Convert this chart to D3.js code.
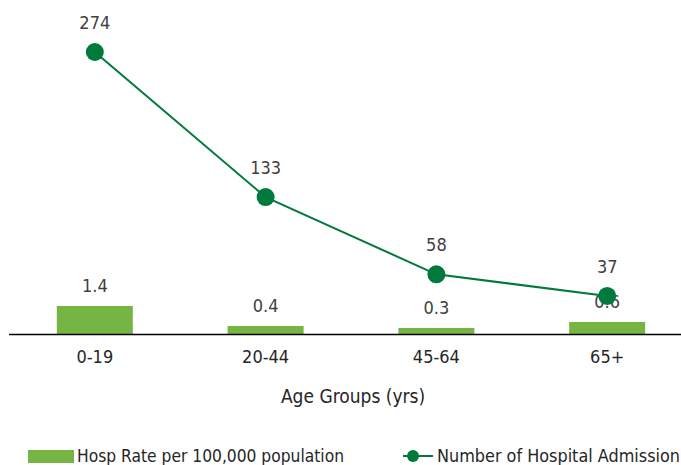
<!DOCTYPE html>
<html>
<head>
<meta charset="utf-8">
<script src="https://cdn.jsdelivr.net/npm/d3@7"></script>
<style>
  body { margin: 0; background: #fff; }
  text { font-family: "DejaVu Sans Condensed", "DejaVu Sans", sans-serif; fill: #404040; }
</style>
</head>
<body>
<div id="chart"></div>
<script>
var categories = ["0-19", "20-44", "45-64", "65+"];
var hospRate = [1.4, 0.4, 0.3, 0.6];
var admissions = [274, 133, 58, 37];
var rateLabels = ["1.4", "0.4", "0.3", "0.6"];
var seriesNames = ["Hosp Rate per 100,000 population", "Number of Hospital Admission"];

function init() {
    var w = 681;
    var h = 465;
    var base = 334;

    var barColor = "#76b543";
    var lineColor = "#007a3c";

    var svg = d3.select("#chart")
        .append("svg")
        .attr("width", w)
        .attr("height", h);

    var xScale = d3.scaleBand()
        .domain(categories)
        .range([9, 693])
        .paddingInner(0.555)
        .paddingOuter(0.28);

    var xCenter = function(d) { return xScale(d) + xScale.bandwidth() / 2; };

    // bar scale: 20px per unit
    var yBar = d3.scaleLinear()
        .domain([0, 1.4])
        .range([base, 306]);

    var yLine = d3.scaleLinear()
        .domain([0, 274])
        .range([base, 52]);

    svg.selectAll("rect.bar")
        .data(hospRate)
        .enter()
        .append("rect")
        .attr("class", "bar")
        .attr("x", function(d, i) { return xScale(categories[i]); })
        .attr("y", function(d) { return yBar(d); })
        .attr("width", xScale.bandwidth())
        .attr("height", function(d) { return base - yBar(d); })
        .style("fill", barColor);

    svg.selectAll("text.barlabel")
        .data(hospRate)
        .enter()
        .append("text")
        .attr("class", "barlabel")
        .attr("x", function(d, i) { return xCenter(categories[i]); })
        .attr("y", function(d) { return yBar(d) - 14; })
        .attr("text-anchor", "middle")
        .style("font-size", "18px")
        .text(function(d, i) { return rateLabels[i]; });

    // axis
    var xAxis = d3.axisBottom(xScale).tickSize(0).tickPadding(16);
    var ax = svg.append("g")
        .attr("transform", "translate(0," + base + ")")
        .call(xAxis);
    ax.select(".domain").attr("d", "M9,0.5H681").attr("stroke", "#000").attr("stroke-width", 1.5);
    ax.selectAll(".tick text")
        .style("font-size", "18px")
        .style("fill", "#262626")
        .attr("font-family", null);

    var line = d3.line()
        .x(function(d, i) { return xCenter(categories[i]); })
        .y(function(d) { return yLine(d); });

    svg.append("path")
        .datum(admissions)
        .attr("d", line)
        .attr("fill", "none")
        .attr("stroke", lineColor)
        .attr("stroke-width", 2);

    svg.selectAll("circle.pt")
        .data(admissions)
        .enter()
        .append("circle")
        .attr("class", "pt")
        .attr("cx", function(d, i) { return xCenter(categories[i]); })
        .attr("cy", function(d) { return yLine(d); })
        .attr("r", 9)
        .style("fill", lineColor);

    svg.selectAll("text.ptlabel")
        .data(admissions)
        .enter()
        .append("text")
        .attr("class", "ptlabel")
        .attr("x", function(d, i) { return xCenter(categories[i]); })
        .attr("y", function(d) { return yLine(d) - 23; })
        .attr("text-anchor", "middle")
        .style("font-size", "18px")
        .text(function(d) { return d; });

    svg.append("text")
        .attr("x", 353)
        .attr("y", 403)
        .attr("text-anchor", "middle")
        .style("font-size", "19px")
        .style("fill", "#262626")
        .text("Age Groups (yrs)");

    // legend
    var lg = svg.append("g");
    lg.append("rect")
        .attr("x", 28).attr("y", 450)
        .attr("width", 46).attr("height", 13)
        .style("fill", barColor);
    lg.append("text")
        .attr("x", 77).attr("y", 462)
        .attr("textLength", 267)
        .attr("lengthAdjust", "spacingAndGlyphs")
        .style("font-size", "18px")
        .style("fill", "#262626")
        .text(seriesNames[0]);
    lg.append("line")
        .attr("x1", 403).attr("x2", 433)
        .attr("y1", 456).attr("y2", 456)
        .attr("stroke", lineColor).attr("stroke-width", 2);
    lg.append("circle")
        .attr("cx", 413).attr("cy", 456).attr("r", 6)
        .style("fill", lineColor);
    lg.append("text")
        .attr("x", 437).attr("y", 462)
        .attr("textLength", 243)
        .attr("lengthAdjust", "spacingAndGlyphs")
        .style("font-size", "18px")
        .style("fill", "#262626")
        .text(seriesNames[1]);
}

window.onload = init;
</script>
</body>
</html>
